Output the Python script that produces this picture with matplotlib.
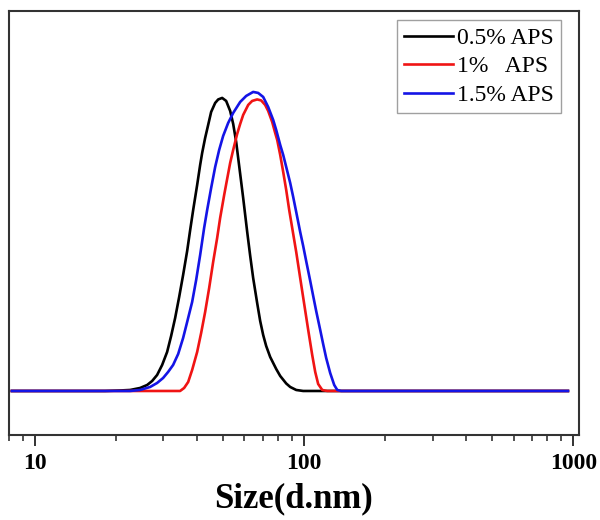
import matplotlib
matplotlib.use("Agg")
import matplotlib.pyplot as plt
from matplotlib.ticker import LogLocator, NullFormatter, NullLocator

plt.rcParams['font.family'] = ['Liberation Serif', 'DejaVu Serif']

# size distribution by intensity (%), one series per APS dosage
size_black = [8.2, 18.2, 20.7, 22.55, 24.56, 26.09, 27.23, 28.41, 29.66, 30.95,
              32.03, 33.15, 34.31, 35.49, 36.74, 37.70, 38.68, 40.02, 41.06,
              41.77, 42.85, 43.97, 45.11, 46.69, 47.92, 49.57, 51.29, 53.08,
              54.47, 55.88, 57.83, 59.33, 61.41, 63.01, 64.62, 66.87, 68.62,
              70.40, 72.23, 74.75, 78.70, 81.45, 85.74, 88.72, 93.40, 99.14, 955]
int_black = [0, 0, 0.03, 0.06, 0.18, 0.36, 0.60, 0.96, 1.56, 2.34,
             3.30, 4.38, 5.64, 6.96, 8.40, 9.66, 10.86, 12.36, 13.56,
             14.28, 15.18, 15.96, 16.74, 17.28, 17.49, 17.58, 17.40, 16.80,
             16.02, 14.94, 13.02, 11.58, 9.54, 8.10, 6.78, 5.28, 4.20,
             3.36, 2.70, 2.04, 1.32, 0.90, 0.45, 0.24, 0.06, 0, 0]

size_red = [8.2, 34.59, 35.80, 37.06, 38.34, 40.02, 41.41, 42.85, 44.35, 45.89,
            47.49, 48.72, 50.43, 51.73, 53.08, 54.47, 56.35, 57.83, 59.33,
            61.94, 64.07, 66.87, 69.21, 71.61, 73.48, 76.04, 78.02, 79.38,
            81.45, 83.56, 85.74, 87.96, 90.25, 93.40, 96.63, 100.0, 103.5,
            107.1, 109.9, 112.7, 116.7, 121.8, 955]
int_red = [0, 0, 0.18, 0.54, 1.26, 2.34, 3.48, 4.74, 6.18, 7.74,
           9.18, 10.38, 11.76, 12.72, 13.68, 14.46, 15.42, 16.02, 16.56,
           17.16, 17.40, 17.49, 17.43, 17.16, 16.80, 16.14, 15.48, 15.06,
           14.16, 13.14, 12.06, 10.86, 9.78, 8.34, 6.78, 5.22, 3.66,
           2.16, 1.14, 0.42, 0.06, 0, 0]

size_blue = [8.2, 18.2, 22.55, 24.56, 26.76, 28.41, 29.91, 31.21, 32.58, 34.02,
             35.49, 36.74, 38.34, 39.68, 41.06, 42.48, 43.60, 45.11, 46.69,
             48.31, 49.99, 52.18, 54.47, 57.83, 60.88, 64.62, 67.45, 70.40,
             73.48, 76.70, 78.70, 81.45, 83.56, 85.74, 88.72, 91.02, 93.40,
             96.63, 99.14, 101.7, 105.3, 108.0, 110.8, 114.7, 117.6, 120.7,
             124.9, 129.3, 132.7, 137.3, 955]
int_blue = [0, 0, 0, 0.06, 0.24, 0.48, 0.78, 1.14, 1.56, 2.22,
            3.18, 4.14, 5.34, 6.66, 8.16, 9.78, 10.86, 12.18, 13.44,
            14.46, 15.30, 16.08, 16.68, 17.34, 17.70, 17.94, 17.88, 17.64,
            17.04, 16.26, 15.66, 14.76, 14.16, 13.44, 12.48, 11.64, 10.74,
            9.54, 8.70, 7.80, 6.60, 5.70, 4.80, 3.66, 2.82, 1.98,
            1.08, 0.36, 0.06, 0, 0]

labels = ['0.5% APS', '1%   APS', '1.5% APS']

fig = plt.figure(figsize=(6, 5.2), dpi=100)
ax = fig.add_axes([0.015, 0.1635, 0.95, 0.8155])

ax.plot(size_black, int_black, color='black', lw=1.9, label=labels[0])
ax.plot(size_red, int_red, color='#f01414', lw=1.9, label=labels[1])
ax.plot(size_blue, int_blue, color='#1414e6', lw=1.9, label=labels[2])

ax.set_xscale('log')
ax.set_xlim(8, 1050)
ax.set_ylim(-2.64, 22.8)

ax.xaxis.set_minor_locator(LogLocator(base=10, subs=range(2, 10), numticks=10))
ax.xaxis.set_minor_formatter(NullFormatter())
ax.set_xticks([10, 100, 1000])
ax.set_xticklabels(['10', '100', '1000'], fontsize=17, fontweight='bold')
ax.yaxis.set_major_locator(NullLocator())

ax.tick_params(axis='x', which='major', direction='out', length=8, width=1.3,
               pad=5, colors='#222222', labelcolor='black')
ax.tick_params(axis='x', which='minor', direction='out', length=4, width=1.1,
               colors='#222222')

for sp in ax.spines.values():
    sp.set_linewidth(1.5)
    sp.set_color('#333333')

ax.set_xlabel('Size(d.nm)', fontsize=25, fontweight='bold', labelpad=6)

leg = ax.legend(loc='upper right', bbox_to_anchor=(0.968, 0.978), fontsize=17,
                frameon=True, fancybox=False, handlelength=2.1,
                handletextpad=0.15, labelspacing=0.3, borderpad=0.3,
                borderaxespad=0.0)
leg.get_frame().set_edgecolor('#888888')
leg.get_frame().set_linewidth(1.0)

fig.savefig('out.png', dpi=100)
